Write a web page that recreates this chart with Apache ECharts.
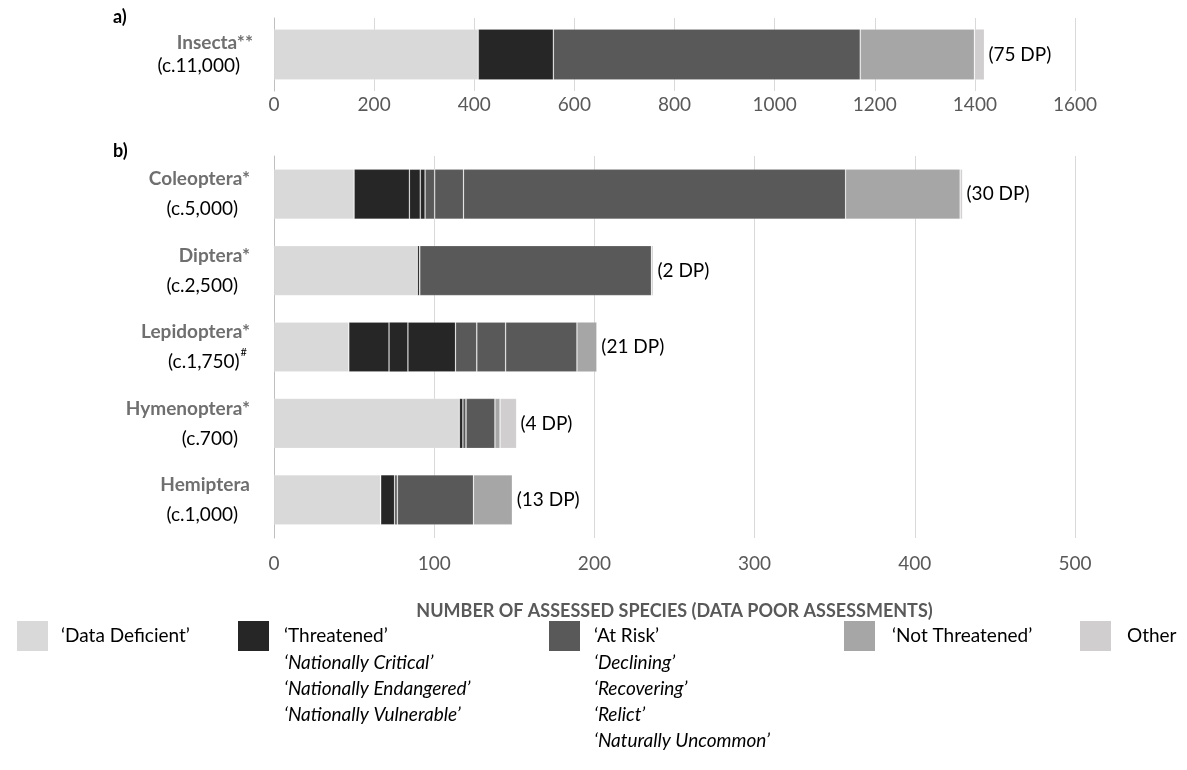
<!DOCTYPE html>
<html>
<head>
<meta charset="utf-8">
<script src="https://cdn.jsdelivr.net/npm/echarts@6/dist/echarts.min.js"></script>
<style>
  html, body { margin: 0; padding: 0; background: #fff; }
  #chart { width: 1187px; height: 770px; }
</style>
</head>
<body>
<div id="chart"></div>
<script>
// panel a) all insects
const insectaName = 'Insecta**';
const insectaCount = '(c.11,000)';
const insectaDD = [408];
const insectaThreatened = [150];
const insectaAtRisk = [613];
const insectaNT = [228];
const insectaOther = [20];
const insectaDP = ['(75 DP)'];
const axisATicks = [0, 1600, 200];

// panel b) orders
const orders = ['Coleoptera*', 'Diptera*', 'Lepidoptera*', 'Hymenoptera*', 'Hemiptera'];
const orderCounts = ['(c.5,000)', '(c.2,500)', '(c.1,750)', '(c.700)', '(c.1,000)'];
const orderSup = ['', '', '#', '', ''];
const dataDeficient = [50, 89.5, 46.7, 115.7, 66.6];
const natCritical = [34.5, 0, 25.1, 0, 0];
const natEndangered = [6.8, 0, 11.8, 0, 0];
const natVulnerable = [3, 1.5, 29.7, 2.2, 8.7];
const declining = [6, 0, 13.3, 2, 1.7];
const recovering = [0, 0, 0, 0, 0];
const relict = [18, 0, 18, 0, 0];
const natUncommon = [238.5, 144.6, 44.5, 18, 47.5];
const notThreatened = [71.5, 1, 12.5, 3.2, 24.3];
const other = [1.5, 0, 0, 10.3, 0];
const orderDP = ['(30 DP)', '(2 DP)', '(21 DP)', '(4 DP)', '(13 DP)'];
const axisBTicks = [0, 500, 100];

const axisTitle = 'NUMBER OF ASSESSED SPECIES (DATA POOR ASSESSMENTS)';

const legendItems = [
    { name: '\u2018Data Deficient\u2019', color: '#d9d9d9', box: 17, text: 61, sub: [] },
    { name: '\u2018Threatened\u2019', color: '#262626', box: 238, text: 284,
      sub: ['\u2018Nationally Critical\u2019', '\u2018Nationally Endangered\u2019', '\u2018Nationally Vulnerable\u2019'] },
    { name: '\u2018At Risk\u2019', color: '#595959', box: 549, text: 594,
      sub: ['\u2018Declining\u2019', '\u2018Recovering\u2019', '\u2018Relict\u2019', '\u2018Naturally Uncommon\u2019'] },
    { name: '\u2018Not Threatened\u2019', color: '#a6a6a6', box: 844, text: 892, sub: [] },
    { name: 'Other', color: '#d0cece', box: 1080, text: 1127, sub: [] }
];

const FONT = 'Lato, "Open Sans", sans-serif';
const C_DD = '#d9d9d9', C_TH = '#262626', C_AR = '#595959', C_NT = '#a6a6a6', C_OT = '#d0cece';
const seam = { borderColor: 'rgba(255,255,255,0.22)', borderWidth: 0.8 };

function bar(name, data, color, axis, stack, extra) {
    return Object.assign({
        name: name,
        type: 'bar',
        stack: stack,
        xAxisIndex: axis,
        yAxisIndex: axis,
        data: data,
        barWidth: axis === 0 ? 51 : 50,
        itemStyle: Object.assign({ color: color }, seam),
        emphasis: { disabled: true },
        animation: false
    }, extra || {});
}

function dpLabel(list) {
    return {
        label: {
            show: true,
            position: 'right',
            distance: 4,
            fontFamily: FONT,
            fontSize: 19,
            color: '#000',
            formatter: p => list[p.dataIndex]
        }
    };
}

const valueAxis = (idx, ticks, margin, extra) => Object.assign({
    type: 'value',
    gridIndex: idx,
    min: ticks[0],
    max: ticks[1],
    interval: ticks[2],
    axisLine: { show: false },
    axisTick: { show: false },
    axisLabel: { fontFamily: FONT, fontSize: 19, color: '#595959', margin: margin, formatter: v => String(v) },
    splitLine: { lineStyle: { color: '#d9d9d9', width: 1 } }
}, extra || {});

const nameStyle = { fontFamily: FONT, fontSize: 19, fontWeight: 'bold', color: '#6f6f6f', align: 'right' };
const countStyle = { fontFamily: FONT, fontSize: 19, color: '#000', align: 'right' };

const graphics = [
    { type: 'text', left: 113, top: 8, style: { text: 'a)', font: 'bold 18px ' + FONT, fill: '#000' } },
    { type: 'text', left: 113, top: 142, style: { text: 'b)', font: 'bold 18px ' + FONT, fill: '#000' } }
];
legendItems.forEach(item => {
    graphics.push({ type: 'rect', shape: { x: item.box, y: 621, width: 31, height: 30 }, style: { fill: item.color } });
    graphics.push({ type: 'text', x: item.text, y: 636,
        style: { text: item.name, font: '19px ' + FONT, fill: '#000', verticalAlign: 'middle' } });
    item.sub.forEach((s, i) => {
        graphics.push({ type: 'text', x: item.text, y: 663 + i * 26,
            style: { text: s, font: 'italic 19px ' + FONT, fill: '#000', verticalAlign: 'middle' } });
    });
});

const option = {
    backgroundColor: '#fff',
    animation: false,
    grid: [
        { left: 274, right: 112, top: 18, height: 73 },
        { left: 274, right: 112, top: 156, height: 382 }
    ],
    xAxis: [
        valueAxis(0, axisATicks, 4),
        valueAxis(1, axisBTicks, 16, {
            name: axisTitle,
            nameLocation: 'middle',
            nameGap: 64,
            nameTextStyle: { fontFamily: FONT, fontSize: 18, fontWeight: 'bold', color: '#595959' }
        })
    ],
    yAxis: [
        {
            type: 'category',
            gridIndex: 0,
            data: [insectaName],
            axisLine: { show: true, lineStyle: { color: '#bfbfbf' } },
            axisTick: { show: false },
            axisLabel: {
                margin: 21,
                formatter: v => '{n|' + v + '}\n{c|' + insectaCount + '}',
                rich: {
                    n: Object.assign({ lineHeight: 23 }, nameStyle),
                    c: Object.assign({ lineHeight: 23, padding: [0, 13, 0, 0] }, countStyle)
                }
            }
        },
        {
            type: 'category',
            gridIndex: 1,
            inverse: true,
            data: orders,
            axisLine: { show: true, lineStyle: { color: '#bfbfbf' } },
            axisTick: { show: false },
            axisLabel: {
                margin: 24,
                formatter: (v, i) => {
                    const sup = orderSup[i];
                    const countLine = sup ? '{c2|' + orderCounts[i] + '}{s|' + sup + '}' : '{c|' + orderCounts[i] + '}';
                    return '{n|' + v + '}\n' + countLine;
                },
                rich: {
                    n: Object.assign({ lineHeight: 30 }, nameStyle),
                    c: Object.assign({ lineHeight: 30, padding: [0, 12, 0, 0] }, countStyle),
                    c2: Object.assign({ lineHeight: 30 }, countStyle),
                    s: { fontFamily: FONT, fontSize: 11, color: '#000', verticalAlign: 'top', lineHeight: 30, padding: [0, 3, 0, 1], align: 'right' }
                }
            }
        }
    ],
    series: [
        bar('Data Deficient', insectaDD, C_DD, 0, 'a'),
        bar('Threatened', insectaThreatened, C_TH, 0, 'a'),
        bar('At Risk', insectaAtRisk, C_AR, 0, 'a'),
        bar('Not Threatened', insectaNT, C_NT, 0, 'a'),
        bar('Other', insectaOther, C_OT, 0, 'a', dpLabel(insectaDP)),

        bar('Data Deficient', dataDeficient, C_DD, 1, 'b'),
        bar('Nationally Critical', natCritical, C_TH, 1, 'b'),
        bar('Nationally Endangered', natEndangered, C_TH, 1, 'b'),
        bar('Nationally Vulnerable', natVulnerable, C_TH, 1, 'b'),
        bar('Declining', declining, C_AR, 1, 'b'),
        bar('Recovering', recovering, C_AR, 1, 'b'),
        bar('Relict', relict, C_AR, 1, 'b'),
        bar('Naturally Uncommon', natUncommon, C_AR, 1, 'b'),
        bar('Not Threatened', notThreatened, C_NT, 1, 'b'),
        bar('Other', other, C_OT, 1, 'b', dpLabel(orderDP))
    ],
    graphic: graphics
};

const chart = echarts.init(document.getElementById('chart'), null, { renderer: 'canvas' });
chart.setOption(option);
</script>
</body>
</html>
